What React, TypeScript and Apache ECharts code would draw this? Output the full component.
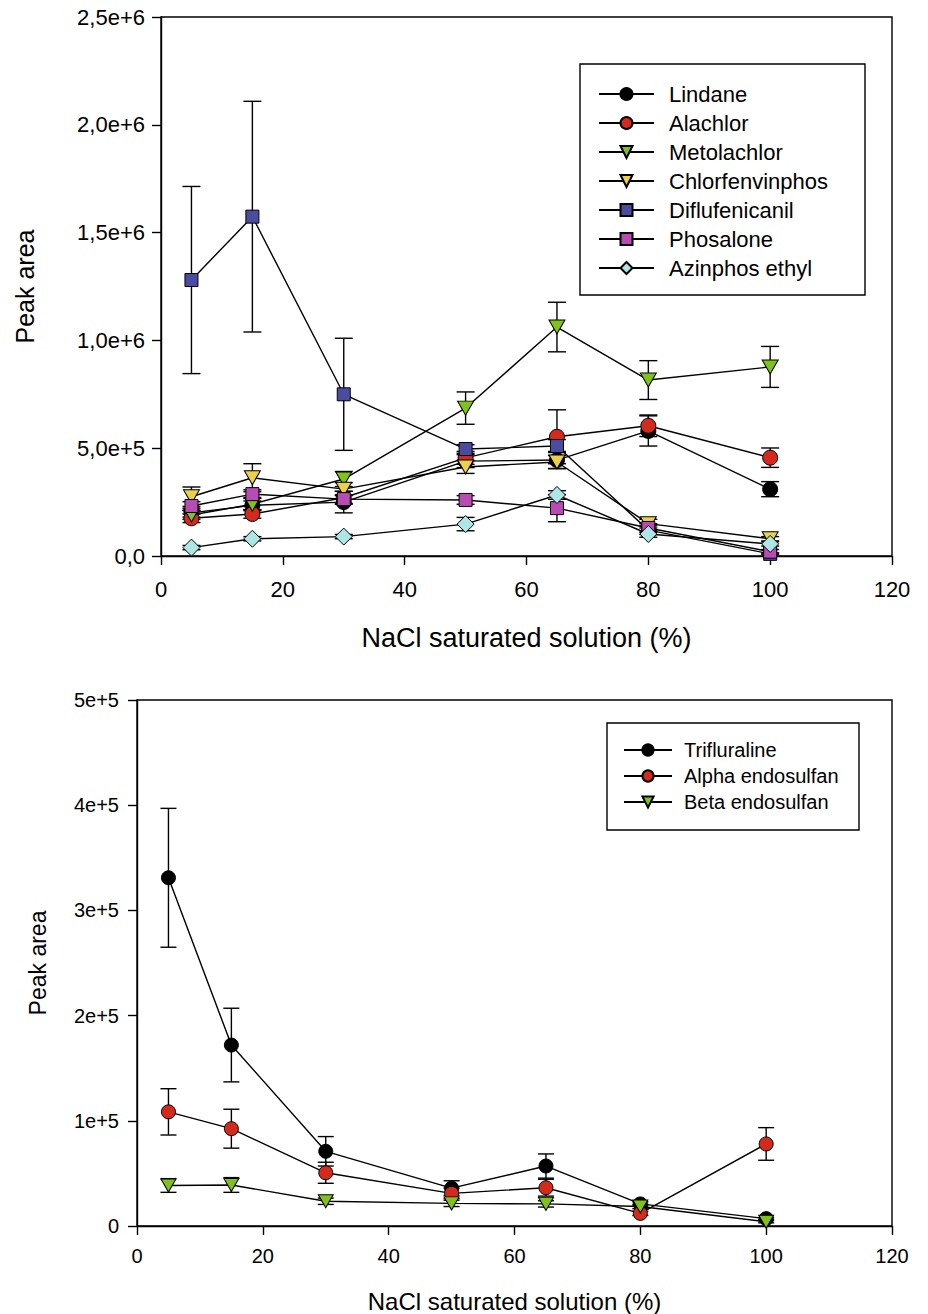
import React, { useEffect, useRef } from "react";
import * as echarts from "echarts";

// ---------- data ----------
const xTop = [5, 15, 30, 50, 65, 80, 100];
const topNames = ["Lindane", "Alachlor", "Metolachlor", "Chlorfenvinphos", "Diflufenicanil", "Phosalone", "Azinphos ethyl"];
const lindane = [0.2e6, 0.235e6, 0.25e6, 0.44e6, 0.445e6, 0.58e6, 0.31e6];
const lindaneErr = [0.02e6, 0.02e6, 0.05e6, 0.03e6, 0.04e6, 0.07e6, 0.035e6];
const alachlor = [0.175e6, 0.195e6, 0.27e6, 0.455e6, 0.553e6, 0.604e6, 0.456e6];
const alachlorErr = [0.02e6, 0.02e6, 0.03e6, 0.03e6, 0.125e6, 0.05e6, 0.045e6];
const metolachlor = [0.19e6, 0.24e6, 0.357e6, 0.686e6, 1.062e6, 0.816e6, 0.877e6];
const metolachlorErr = [0.02e6, 0.03e6, 0.035e6, 0.075e6, 0.115e6, 0.09e6, 0.095e6];
const chlorfenvinphos = [0.275e6, 0.363e6, 0.31e6, 0.413e6, 0.436e6, 0.15e6, 0.08e6];
const chlorfenvinphosErr = [0.045e6, 0.065e6, 0.03e6, 0.03e6, 0.03e6, 0.02e6, 0.01e6];
const diflufenicanil = [1.28e6, 1.574e6, 0.75e6, 0.496e6, 0.51e6, 0.12e6, 0.01e6];
const diflufenicanilErr = [0.434e6, 0.535e6, 0.26e6, 0.02e6, 0.03e6, 0.02e6, 0.005e6];
const phosalone = [0.232e6, 0.287e6, 0.264e6, 0.26e6, 0.222e6, 0.13e6, 0.02e6];
const phosaloneErr = [0.02e6, 0.02e6, 0.02e6, 0.02e6, 0.063e6, 0.02e6, 0.01e6];
const azinphos = [0.039e6, 0.08e6, 0.09e6, 0.148e6, 0.283e6, 0.102e6, 0.056e6];
const azinphosErr = [0.01e6, 0.01e6, 0.01e6, 0.031e6, 0.02e6, 0.015e6, 0.01e6];

const xBottom = [5, 15, 30, 50, 65, 80, 100];
const bottomNames = ["Trifluraline", "Alpha endosulfan", "Beta endosulfan"];
const trifluraline = [3.31e5, 1.72e5, 0.71e5, 0.36e5, 0.57e5, 0.21e5, 0.07e5];
const trifluralineErr = [0.66e5, 0.35e5, 0.14e5, 0.07e5, 0.115e5, 0.02e5, 0.01e5];
const alphaEndo = [1.085e5, 0.925e5, 0.506e5, 0.31e5, 0.364e5, 0.12e5, 0.78e5];
const alphaEndoErr = [0.22e5, 0.185e5, 0.1e5, 0.05e5, 0.08e5, 0.02e5, 0.155e5];
const betaEndo = [0.385e5, 0.39e5, 0.235e5, 0.215e5, 0.21e5, 0.185e5, 0.04e5];
const betaEndoErr = [0.065e5, 0.07e5, 0.03e5, 0.03e5, 0.03e5, 0.02e5, 0.01e5];

const yTicksTop = ["0,0", "5,0e+5", "1,0e+6", "1,5e+6", "2,0e+6", "2,5e+6"];
const yTicksBottom = ["0", "1e+5", "2e+5", "3e+5", "4e+5", "5e+5"];

const FONT = "Liberation Sans, Arial, sans-serif";
const TRI_DOWN = "path://M0,0L20,0L10,17Z";

function lineSeries(name: string, xs: number[], ys: number[], symbol: string, size: any, color: string, idx: number, z: number) {
  return {
    type: "line",
    name,
    xAxisIndex: idx,
    yAxisIndex: idx,
    data: xs.map((x, i) => [x, ys[i]]),
    symbol,
    symbolSize: size,
    showSymbol: true,
    z,
    itemStyle: { color, borderColor: "#000", borderWidth: 1 },
    lineStyle: { color: "#000", width: 1.4 },
    emphasis: { disabled: true },
  };
}

function errSeries(name: string, xs: number[], ys: number[], es: number[], idx: number, capW: number) {
  return {
    type: "custom",
    name: name + " err",
    xAxisIndex: idx,
    yAxisIndex: idx,
    silent: true,
    z: 1,
    data: xs.map((x, i) => [x, ys[i] - es[i], ys[i] + es[i]]),
    renderItem: (params: any, api: any) => {
      const x = api.value(0);
      const top = api.coord([x, api.value(2)]);
      const bot = api.coord([x, api.value(1)]);
      const st = { stroke: "#000", lineWidth: 1.4 };
      return {
        type: "group",
        children: [
          { type: "line", shape: { x1: top[0], y1: top[1], x2: bot[0], y2: bot[1] }, style: st },
          { type: "line", shape: { x1: top[0] - capW, y1: top[1], x2: top[0] + capW, y2: top[1] }, style: st },
          { type: "line", shape: { x1: bot[0] - capW, y1: bot[1], x2: bot[0] + capW, y2: bot[1] }, style: st },
        ],
      };
    },
  };
}

export default function App() {
  const ref = useRef<HTMLDivElement>(null);
  useEffect(() => {
    if (!ref.current) return;
    const chart = echarts.init(ref.current, null, { renderer: "svg" });

    const axisCommon = {
      axisLine: { show: true, lineStyle: { color: "#000", width: 1.4 } },
      axisTick: { show: true, inside: false, length: 9, lineStyle: { color: "#000", width: 1.4 } },
      splitLine: { show: false },
    };

    const topSpecs = [
      { n: topNames[0], y: lindane, e: lindaneErr, s: "circle", sz: 15, c: "#000000" },
      { n: topNames[1], y: alachlor, e: alachlorErr, s: "circle", sz: 15, c: "#d42a1e" },
      { n: topNames[2], y: metolachlor, e: metolachlorErr, s: TRI_DOWN, sz: [16, 14], c: "#7fc21a" },
      { n: topNames[3], y: chlorfenvinphos, e: chlorfenvinphosErr, s: TRI_DOWN, sz: [16, 14], c: "#ebd04a" },
      { n: topNames[4], y: diflufenicanil, e: diflufenicanilErr, s: "rect", sz: 13, c: "#4a4ca2" },
      { n: topNames[5], y: phosalone, e: phosaloneErr, s: "rect", sz: 13, c: "#b84cb4" },
      { n: topNames[6], y: azinphos, e: azinphosErr, s: "diamond", sz: 17, c: "#aee6e6" },
    ];
    const bottomSpecs = [
      { n: bottomNames[0], y: trifluraline, e: trifluralineErr, s: "circle", sz: 14, c: "#000000" },
      { n: bottomNames[1], y: alphaEndo, e: alphaEndoErr, s: "circle", sz: 14, c: "#d42a1e" },
      { n: bottomNames[2], y: betaEndo, e: betaEndoErr, s: TRI_DOWN, sz: [15, 13], c: "#7fc21a" },
    ];

    const series: any[] = [];
    topSpecs.forEach((sp) => {
      series.push(errSeries(sp.n, xTop, sp.y, sp.e, 0, 9));
    });
    topSpecs.forEach((sp, i) => {
      series.push(lineSeries(sp.n, xTop, sp.y, sp.s, sp.sz, sp.c, 0, 3 + i));
    });
    bottomSpecs.forEach((sp) => {
      series.push(errSeries(sp.n, xBottom, sp.y, sp.e, 1, 8));
    });
    bottomSpecs.forEach((sp, i) => {
      series.push(lineSeries(sp.n, xBottom, sp.y, sp.s, sp.sz, sp.c, 1, 3 + i));
    });

    chart.setOption({
      animation: false,
      textStyle: { fontFamily: FONT, color: "#000" },
      grid: [
        { left: 161, top: 17, width: 731, height: 539, show: true, borderColor: "#000", borderWidth: 1.4, backgroundColor: "transparent" },
        { left: 137, top: 700, width: 755, height: 526, show: true, borderColor: "#000", borderWidth: 1.4, backgroundColor: "transparent" },
      ],
      xAxis: [
        {
          type: "value", gridIndex: 0, min: 0, max: 120, interval: 20, ...axisCommon,
          axisLabel: { fontSize: 22, color: "#000", margin: 22, fontFamily: FONT },
          name: "NaCl saturated solution (%)", nameLocation: "middle", nameGap: 68,
          nameTextStyle: { fontSize: 27, color: "#000", fontFamily: FONT },
        },
        {
          type: "value", gridIndex: 1, min: 0, max: 120, interval: 20, ...axisCommon,
          axisLabel: { fontSize: 20, color: "#000", margin: 20, fontFamily: FONT },
          name: "NaCl saturated solution (%)", nameLocation: "middle", nameGap: 63,
          nameTextStyle: { fontSize: 24, color: "#000", fontFamily: FONT },
        },
      ],
      yAxis: [
        {
          type: "value", gridIndex: 0, min: 0, max: 2.5e6, interval: 5e5, ...axisCommon,
          axisLabel: { fontSize: 22, color: "#000", margin: 16, fontFamily: FONT, formatter: (v: number) => yTicksTop[Math.round(v / 5e5)] },
          name: "Peak area", nameLocation: "middle", nameGap: 124, nameRotate: 90,
          nameTextStyle: { fontSize: 25, color: "#000", fontFamily: FONT },
        },
        {
          type: "value", gridIndex: 1, min: 0, max: 5e5, interval: 1e5, ...axisCommon,
          axisLabel: { fontSize: 20, color: "#000", margin: 18, fontFamily: FONT, formatter: (v: number) => yTicksBottom[Math.round(v / 1e5)] },
          name: "Peak area", nameLocation: "middle", nameGap: 88, nameRotate: 90,
          nameTextStyle: { fontSize: 23, color: "#000", fontFamily: FONT },
        },
      ],
      legend: [
        {
          data: topNames, orient: "vertical", left: 598, top: 83, padding: 0,
          itemWidth: 55, itemHeight: 15, itemGap: 7, selectedMode: false,
          textStyle: { fontSize: 22, color: "#000", fontFamily: FONT, padding: [0, 0, 0, 10] },
        },
        {
          data: bottomNames, orient: "vertical", left: 623, top: 740, padding: 0,
          itemWidth: 48, itemHeight: 14, itemGap: 6, selectedMode: false,
          textStyle: { fontSize: 20, color: "#000", fontFamily: FONT, padding: [0, 0, 0, 7] },
        },
      ],
      graphic: [
        { type: "rect", shape: { x: 580, y: 64, width: 285, height: 231 }, style: { fill: "none", stroke: "#000", lineWidth: 1.4 }, z: 0 },
        { type: "rect", shape: { x: 607, y: 723, width: 252, height: 107 }, style: { fill: "none", stroke: "#000", lineWidth: 1.4 }, z: 0 },
      ],
      series,
    });
    return () => chart.dispose();
  }, []);
  return <div ref={ref} style={{ position: "absolute", left: 0, top: 0, width: 928, height: 1314 }} />;
}
